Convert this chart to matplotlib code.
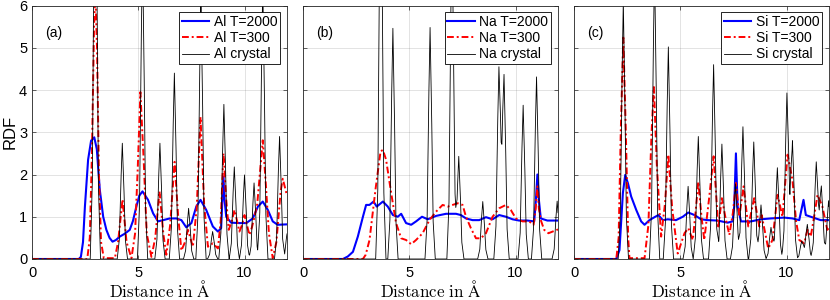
import numpy as np
import matplotlib.pyplot as plt

plt.rcParams['font.family'] = ['Liberation Sans', 'DejaVu Sans']
plt.rcParams['mathtext.fontset'] = 'cm'

# ---- (a) Al ----
al_cryst_r = [2.98, 4.25, 5.20, 6.02, 6.70, 7.37, 7.95, 8.50, 9.03, 9.52, 10.00, 10.45, 10.86, 11.65, 12.03]
al_cryst_h = [10.9, 2.74, 7.3, 2.74, 4.4, 1.2, 6.2, 0.65, 3.66, 2.18, 1.99, 1.8, 6.5, 2.9, 0.7]
al_300_r = [0, 2.6, 2.72, 2.82, 2.92, 2.98, 3.06, 3.15, 3.25, 3.38, 3.9, 4.05, 4.26, 4.45, 4.68,
            4.85, 4.98, 5.1, 5.25, 5.4, 5.62, 5.8, 6.0, 6.18, 6.32, 6.5, 6.71, 6.88, 7.03, 7.2,
            7.34, 7.57, 7.75, 7.93, 8.1, 8.28, 8.51, 8.75, 8.88, 9.01, 9.14, 9.26, 9.4, 9.53, 9.65,
            9.76, 9.88, 10.0, 10.12, 10.23, 10.35, 10.47, 10.6, 10.72, 10.86, 11.0, 11.15, 11.33,
            11.5, 11.7, 11.8, 12.0]
al_300_g = [0, 0, 0.5, 2.5, 5.5, 6.3, 5.0, 2.0, 0.4, 0.02, 0.02, 0.4, 1.41, 0.4, 0.02,
            0.6, 2.2, 3.95, 2.4, 0.6, 0.05, 0.5, 1.6, 0.6, 0.1, 0.8, 2.3, 1.0, 0.2, 0.4,
            0.69, 0.29, 1.2, 3.36, 1.3, 0.29, 0.37, 0.25, 0.9, 2.5, 1.4, 0.69, 0.9, 1.16, 0.9,
            0.65, 0.8, 1.04, 0.8, 0.57, 0.75, 1.0, 1.3, 2.0, 2.81, 1.8, 0.6, 0.02,
            0.4, 1.6, 1.9, 1.5]
al_2000_r = [0, 2.2, 2.3, 2.4, 2.49, 2.64, 2.78, 2.93, 3.05, 3.19, 3.35, 3.5, 3.65, 3.79, 3.95,
             4.13, 4.37, 4.6, 4.75, 4.91, 5.05, 5.2, 5.46, 5.7, 5.93, 6.17, 6.48, 6.79, 7.03,
             7.26, 7.5, 7.73, 7.93, 8.2, 8.51, 8.75, 8.9, 8.96, 9.01, 9.06, 9.14, 9.37, 9.76,
             10.08, 10.39, 10.63, 10.86, 11.1, 11.33, 11.56, 12.0]
al_2000_g = [0, 0, 0.05, 0.4, 1.24, 2.35, 2.8, 2.88, 2.6, 1.64, 1.0, 0.69, 0.5, 0.41, 0.45,
             0.53, 0.6, 0.69, 0.9, 1.24, 1.5, 1.6, 1.4, 1.08, 0.89, 0.92, 0.96, 0.96, 0.92,
             0.75, 0.85, 1.24, 1.4, 1.16, 0.77, 0.65, 0.73, 1.4, 1.95, 1.4, 1.0, 0.86, 0.85,
             0.85, 0.96, 1.24, 1.36, 1.16, 0.89, 0.81, 0.82]

# ---- (b) Na ----
na_cryst_r = [3.66, 4.23, 5.98, 7.01, 7.33, 8.46, 9.22, 9.46, 10.36, 10.99, 11.96]
na_cryst_h = [9.7, 5.46, 5.48, 7.9, 2.43, 1.36, 4.55, 4.37, 3.64, 4.31, 1.37]
na_300_r = [0, 2.82, 2.95, 3.13, 3.41, 3.65, 3.76, 3.91, 4.15, 4.38, 4.62, 4.85, 5.09, 5.32,
            5.63, 5.95, 6.26, 6.57, 6.81, 7.04, 7.28, 7.51, 7.67, 7.9, 8.14, 8.37, 8.61, 8.92,
            9.23, 9.55, 9.78, 10.02, 10.33, 10.64, 10.85, 10.95, 11.03, 11.1, 11.19, 11.35,
            11.55, 12.0]
na_300_g = [0, 0, 0.1, 0.45, 1.64, 2.55, 2.58, 2.35, 1.56, 0.85, 0.49, 0.45, 0.35, 0.45,
            0.61, 0.92, 1.12, 1.28, 1.24, 1.28, 1.32, 1.28, 1.0, 0.73, 0.49, 0.49, 0.61, 1.0,
            1.2, 1.28, 1.16, 0.96, 0.89, 0.89, 0.81, 1.2, 1.72, 1.2, 0.92, 0.69,
            0.61, 0.7]
na_2000_r = [0, 1.88, 2.11, 2.35, 2.58, 2.82, 2.97, 3.13, 3.32, 3.47, 3.76, 3.99, 4.23, 4.46,
             4.62, 4.85, 5.09, 5.32, 5.6, 5.87, 6.26, 6.73, 7.2, 7.43, 7.67, 7.98, 8.29, 8.61,
             8.92, 9.23, 9.55, 9.86, 10.17, 10.56, 10.88, 10.96, 11.03, 11.1, 11.19, 11.5, 12.0]
na_2000_g = [0, 0, 0.06, 0.17, 0.53, 1.0, 1.28, 1.28, 1.36, 1.24, 1.36, 1.24, 1.04, 1.0,
             1.07, 0.85, 0.81, 0.89, 1.0, 0.94, 1.02, 1.07, 1.07, 1.04, 0.96, 0.92, 0.92, 0.99,
             0.94, 1.04, 1.0, 0.94, 0.91, 0.91, 0.89, 1.4, 2.0, 1.4, 0.96, 0.91, 0.91]

# ---- (c) Si ----
si_cryst_r = [2.32, 3.79, 4.44, 5.37, 5.85, 6.57, 6.96, 7.60, 7.95, 8.46, 8.80, 9.27, 9.57,
              10.02, 10.28, 10.72, 10.98, 11.40, 11.64, 11.98]
si_cryst_h = [6.1, 6.9, 5.02, 1.72, 2.9, 4.6, 2.72, 1.78, 3.13, 2.77, 1.28, 0.75, 2.16,
              3.93, 2.8, 0.43, 0.82, 2.3, 1.73, 1.38]
si_300_r = [0, 1.99, 2.1, 2.2, 2.32, 2.44, 2.55, 2.61, 3.32, 3.5, 3.65, 3.76, 3.9, 4.1, 4.28,
            4.44, 4.62, 4.88, 5.2, 5.38, 5.59, 5.72, 5.85, 6.0, 6.13, 6.35, 6.57, 6.79, 6.96,
            7.12, 7.31, 7.48, 7.62, 7.78, 7.98, 8.2, 8.48, 8.72, 8.83, 9.14, 9.34, 9.58, 9.81,
            10.05, 10.28, 10.45, 10.6, 10.83, 10.99, 11.14, 11.3, 11.46, 11.69, 11.92, 12.0]
si_300_g = [0, 0, 0.5, 3.0, 5.24, 3.0, 0.5, 0.02, 0.02, 0.8, 3.0, 4.07, 2.2, 0.53, 1.3,
            2.47, 1.2, 0.13, 0.61, 0.73, 0.45, 1.1, 1.83, 1.0, 0.45, 1.4, 2.43, 0.77, 1.44,
            1.0, 0.57, 1.1, 1.8, 1.0, 1.72, 0.77, 1.44, 0.77, 1.04, 0.25, 0.45, 1.52, 1.0,
            2.47, 1.87, 0.9, 0.45, 0.37, 0.69, 0.53, 1.0, 1.52, 1.24, 0.69, 0.75]
si_2000_r = [0, 1.99, 2.14, 2.3, 2.41, 2.54, 2.69, 2.93, 3.16, 3.32, 3.55, 3.79, 3.97, 4.18,
             4.41, 4.8, 5.12, 5.38, 5.67, 5.98, 6.29, 6.76, 7.23, 7.46, 7.54, 7.62, 7.7, 7.86,
             8.33, 8.8, 9.26, 9.89, 10.28, 10.6, 10.7, 10.8, 10.91, 11.14, 11.61, 12.0]
si_2000_g = [0, 0, 0.21, 1.56, 1.99, 1.79, 1.48, 1.16, 0.89, 0.81, 0.92, 0.99, 1.04, 0.92,
             0.94, 0.92, 1.0, 1.1, 1.04, 0.94, 0.92, 0.91, 0.86, 0.89, 1.24, 2.5, 1.24, 0.89,
             0.89, 0.94, 0.96, 0.98, 0.96, 0.92, 1.16, 1.4, 1.04, 1.0, 0.92, 0.92]

# profil d'un pic du cristal (décalage en Å, fraction de la hauteur)
pic_dr = [-0.24, -0.14, -0.07, 0.0, 0.07, 0.14, 0.24]
pic_f = [0.0, 0.17, 0.65, 1.0, 0.65, 0.17, 0.0]

r = np.linspace(0, 12, 2401)


def courbe_cristal(pos, haut):
    g = np.zeros_like(r)
    for p, h in zip(pos, haut):
        g += np.interp(r, np.array(pic_dr) + p, np.array(pic_f) * h, left=0, right=0)
    return g


panneaux = [
    ("(a)", "Al", al_2000_r, al_2000_g, al_300_r, al_300_g, al_cryst_r, al_cryst_h),
    ("(b)", "Na", na_2000_r, na_2000_g, na_300_r, na_300_g, na_cryst_r, na_cryst_h),
    ("(c)", "Si", si_2000_r, si_2000_g, si_300_r, si_300_g, si_cryst_r, si_cryst_h),
]

fig = plt.figure(figsize=(8.3, 3.0), dpi=100)
gauche = [32 / 830, 303 / 830, 574 / 830]
axe_col = (0.15, 0.15, 0.15)

for i, (lettre, el, r1, g1, r2, g2, rc, hc) in enumerate(panneaux):
    ax = fig.add_axes([gauche[i], 41 / 300, 255 / 830, 253.5 / 300])
    ax.plot(r1, g1, color='b', lw=1.5, label=f"{el} T=2000")
    ax.plot(r2, g2, color='r', lw=1.4, ls=(0, (3.5, 1.5, 1, 1.5)), label=f"{el} T=300")
    ax.plot(r, courbe_cristal(rc, hc), color='k', lw=0.6, label=f"{el} crystal")
    ax.set_xlim(0, 12)
    ax.set_ylim(0, 6)
    ax.set_xticks([0, 5, 10])
    ax.set_yticks(range(7))
    ax.grid(True, color=axe_col, alpha=0.15, lw=0.6)
    ax.tick_params(direction='in', length=3, width=0.5, top=True, right=True,
                   colors=axe_col, labelsize=10.5, labelcolor='k')
    ax.tick_params(axis='x', pad=5)
    for s in ax.spines.values():
        s.set_color(axe_col)
        s.set_linewidth(0.6)
    if i > 0:
        ax.set_yticklabels([])
    else:
        ax.set_ylabel("RDF", fontsize=12, labelpad=1)
    ax.set_xlabel(r"$\mathrm{Distance\ in\ \AA}$", fontsize=12.2, va='baseline')
    ax.xaxis.set_label_coords(0.5, -0.148)
    ax.text(0.6, 5.35, lettre, fontsize=10, va='center')
    leg = ax.legend(loc='upper right', fontsize=10, fancybox=False, framealpha=1,
                    edgecolor='k', borderpad=0.2, labelspacing=0.15, handlelength=2.0,
                    handletextpad=0.3, borderaxespad=0.5)
    leg.get_frame().set_linewidth(0.6)

fig.savefig("out.png", dpi=100)
